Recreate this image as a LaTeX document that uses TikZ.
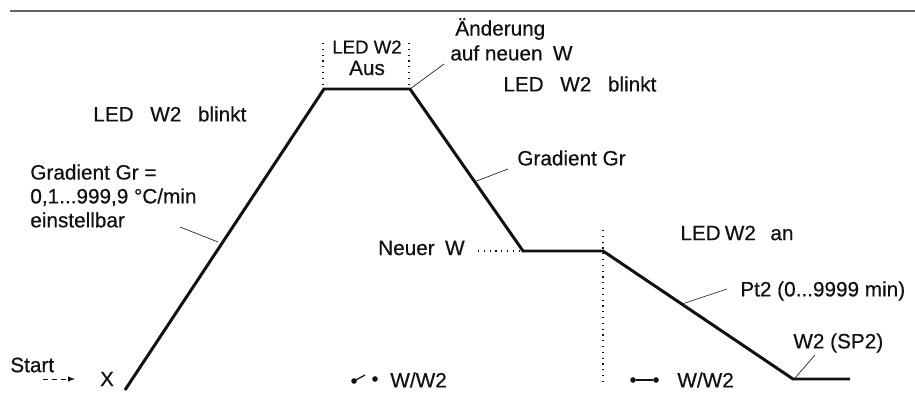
\documentclass[tikz,border=0pt]{standalone}
\usepackage{fontspec}
\setmainfont{Liberation Sans}[FakeBold=0.5]
\definecolor{ink}{HTML}{111111}
\definecolor{rulegray}{HTML}{666666}
\newcommand{\wgap}[1]{\hspace{#1em}}

\begin{document}
\begin{tikzpicture}[x=0.02cm,y=-0.02cm,
    txt/.style={inner sep=0pt, text=ink, font=\fontsize{11.8}{13.6}\selectfont},
    smalltxt/.style={inner sep=0pt, text=ink, font=\fontsize{10.6}{12}\selectfont},
    profile/.style={draw=ink, line width=1.7pt},
    leader/.style={draw=ink, line width=0.35pt},
    dots/.style={draw=ink, line width=0.7pt, dash pattern=on 0.7pt off 2.6pt},
    contact/.style={circle, fill=ink, inner sep=0pt, minimum size=3.2pt}]
    \useasboundingbox (0,0) rectangle (915,408);
    \draw [rulegray, line width=1pt] (10,11) -- (915,11);

    \coordinate (p0) at (125,390);
    \coordinate (p1) at (324,89);
    \coordinate (p2) at (410,89);
    \coordinate (p3) at (523,251);
    \coordinate (p4) at (603,251);
    \coordinate (p5) at (793,379);
    \coordinate (p6) at (850,379);
    \draw [profile] (p0) -- (p1) -- (p2) -- (p3) -- (p4) -- (p5) -- (p6);

    \draw [dots] (323,43) -- (323,85);
    \draw [dots] (409,43) -- (409,85);
    \draw [dots] (603,230) -- (603,385);

    \node[smalltxt] (ledaus) at (367,47) {LED W2};
    \node[txt] (aus) at (367,68) {Aus};

    \node[txt, anchor=west] (neu1) at (455,29) {Änderung};
    \node[txt, anchor=west] (neu2) at (450,53) {auf neuen\wgap{0.5}W};
    \coordinate (q2) at (444,64);
    \draw [leader] (p2) -- (q2);

    \node[txt, anchor=west] (blink1) at (93,114) {LED\wgap{0.8}W2\wgap{0.8}blinkt};
    \node[txt, anchor=west] (blink2) at (503,84) {LED\wgap{0.8}W2\wgap{0.8}blinkt};

    \node[txt, anchor=west, align=left] (grad1) at (30,196) {Gradient Gr =\\0,1...999,9 °C/min\\einstellbar};
    \coordinate (q1a) at (180,227);
    \coordinate (q1b) at (218,242);
    \draw [leader] (q1a) -- (q1b);

    \node[txt, anchor=west] (grad2) at (517,158) {Gradient Gr};
    \coordinate (q3a) at (474,182);
    \coordinate (q3b) at (508,169);
    \draw [leader] (q3a) -- (q3b);

    \node[txt, anchor=east] (neuw) at (465,248) {Neuer\wgap{0.5}W};
    \coordinate (q4) at (478,251);
    \draw [dots] (q4) -- (p3);

    \node[txt, anchor=west] (ledan) at (680,233) {LED\wgap{0.2}W2\wgap{0.7}an};

    \node[txt, anchor=west] (pt2) at (740,291) {Pt2 (0...9999 min)};
    \coordinate (q5a) at (682,304);
    \coordinate (q5b) at (727,289);
    \draw [leader] (q5a) -- (q5b);

    \node[txt, anchor=west] (sp2) at (793,343) {W2 (SP2)};
    \coordinate (q6a) at (795,378);
    \coordinate (q6b) at (815,355);
    \draw [leader] (q6a) -- (q6b);

    \node[txt, anchor=west] (start) at (10,365) {Start};
    \coordinate (s1) at (43,379);
    \coordinate (s2) at (75,379);
    \draw [ink, line width=0.35pt, densely dashed, -latex] (s1) -- (s2);
    \node[txt] (xval) at (107,379) {X};

    \node[contact] (off1) at (354,381) {};
    \node[contact] (off2) at (375,379) {};
    \draw [ink, line width=0.7pt] (off1.center) -- (365,375);
    \node[txt, anchor=west] (sw1) at (390,380) {W/W2};

    \node[contact] (on1) at (633,380) {};
    \node[contact] (on2) at (656,380) {};
    \draw [ink, line width=0.7pt] (on1) -- (on2);
    \node[txt, anchor=west] (sw2) at (677,380) {W/W2};
\end{tikzpicture}
\end{document}
